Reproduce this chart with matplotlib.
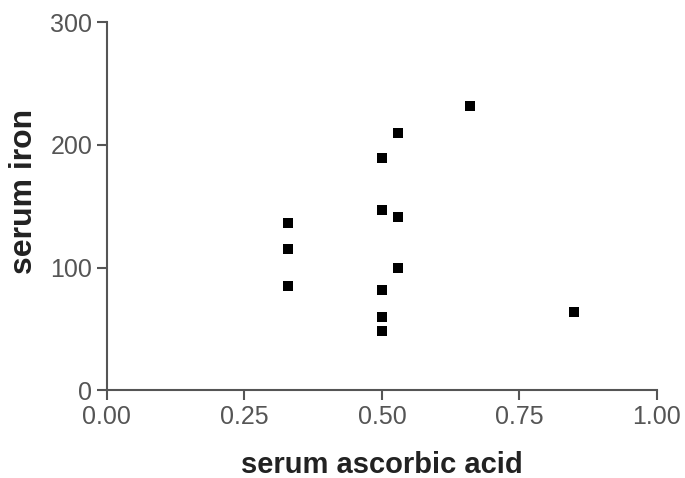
import matplotlib
matplotlib.use("Agg")
import matplotlib.pyplot as plt

ascorbic = [0.33, 0.33, 0.33, 0.50, 0.50, 0.50, 0.50, 0.50, 0.53, 0.53, 0.53, 0.66, 0.85]
iron = [136, 115, 85, 189, 147, 82, 60, 48, 210, 141, 100, 232, 64]

xticks = [0.00, 0.25, 0.50, 0.75, 1.00]
xticklabels = ["0.00", "0.25", "0.50", "0.75", "1.00"]
yticks = [0, 100, 200, 300]

plt.rcParams['font.family'] = ['Liberation Sans', 'DejaVu Sans']
fig = plt.figure(figsize=(6.85, 4.78), dpi=100)
ax = fig.add_axes([0.156, 0.184, 0.803, 0.769])
ax.scatter(ascorbic, iron, marker='s', s=48, color='black', linewidths=0, zorder=3)
ax.set_xlim(0, 1)
ax.set_ylim(0, 300)
ax.set_xticks(xticks)
ax.set_xticklabels(xticklabels)
ax.set_yticks(yticks)
for s in ['top', 'right']:
    ax.spines[s].set_visible(False)
for s in ['left', 'bottom']:
    ax.spines[s].set_color('#555555')
    ax.spines[s].set_linewidth(1.5)
ax.tick_params(direction='out', length=7, width=1.5, color='#555555',
               labelsize=18, labelcolor='#555555', pad=3.5)
ax.set_xlabel('serum ascorbic acid', fontsize=21, fontweight='bold', color='#222222', labelpad=16)
ax.set_ylabel('serum iron', fontsize=23, fontweight='bold', color='#222222')
ax.yaxis.set_label_coords(-0.124, 0.54)
fig.savefig('out.png', dpi=100)
